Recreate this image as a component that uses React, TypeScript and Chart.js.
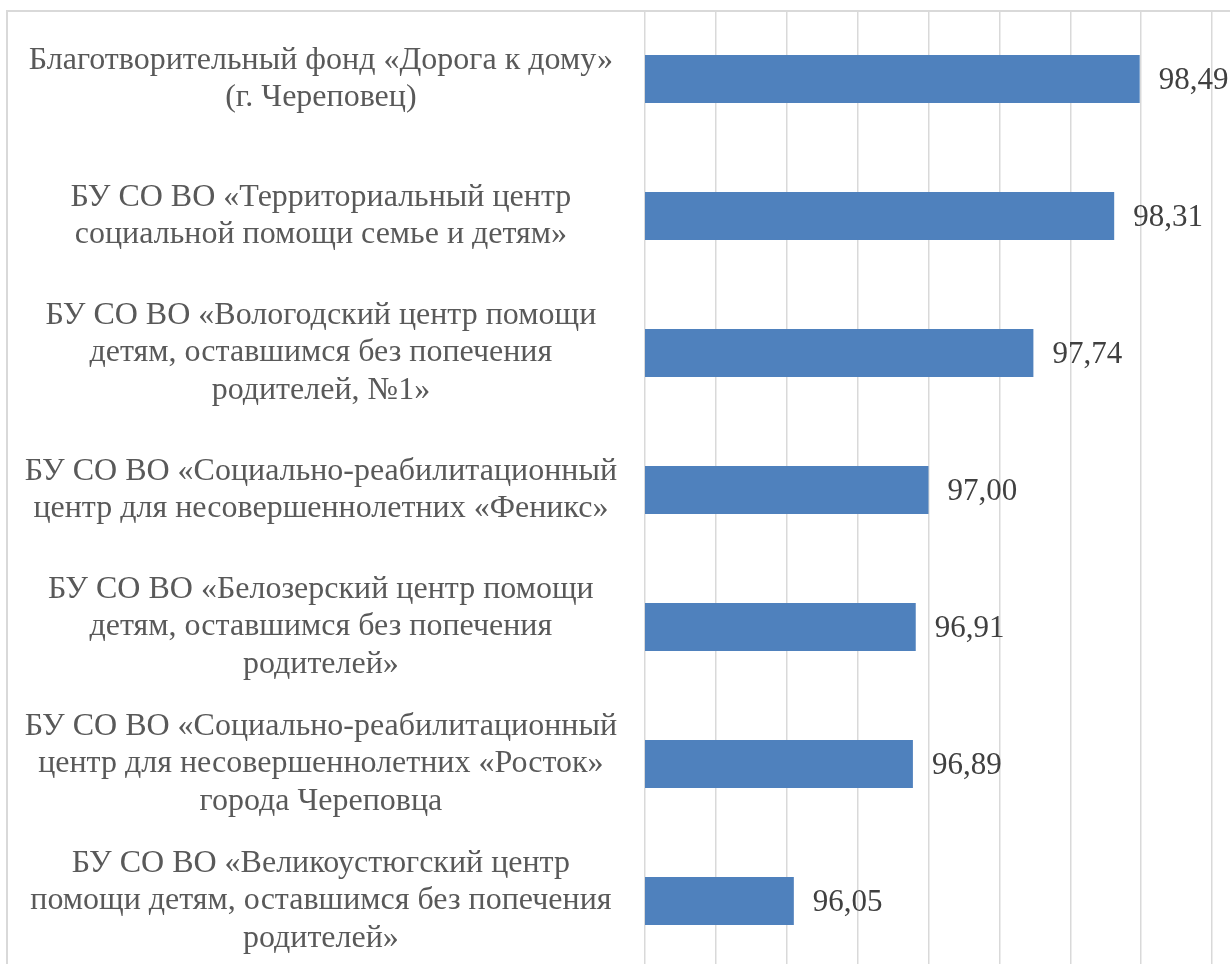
import React, { useEffect, useRef } from "react";
import { Chart, registerables } from "chart.js";

Chart.register(...registerables);

const categories: string[][] = [
  ["Благотворительный фонд «Дорога к дому»", "(г. Череповец)"],
  ["БУ СО ВО «Территориальный центр", "социальной помощи семье и детям»"],
  ["БУ СО ВО «Вологодский центр помощи", "детям, оставшимся без попечения", "родителей, №1»"],
  ["БУ СО ВО «Социально-реабилитационный", "центр для несовершеннолетних «Феникс»"],
  ["БУ СО ВО «Белозерский центр помощи", "детям, оставшимся без попечения", "родителей»"],
  ["БУ СО ВО «Социально-реабилитационный", "центр для несовершеннолетних «Росток»", "города Череповца"],
  ["БУ СО ВО «Великоустюгский центр", "помощи детям, оставшимся без попечения", "родителей»"],
];

const values: number[] = [98.49, 98.31, 97.74, 97.0, 96.91, 96.89, 96.05];

const axisMin = 95;
const axisMax = 99;
const axisStep = 0.5;

const FONT = "'Liberation Serif', 'Times New Roman', serif";

const valueLabels = {
  id: "valueLabels",
  afterDatasetsDraw(chart: any) {
    const ctx = chart.ctx;
    const meta = chart.getDatasetMeta(0);
    ctx.save();
    ctx.font = `31px ${FONT}`;
    ctx.fillStyle = "#404040";
    ctx.textAlign = "left";
    ctx.textBaseline = "middle";
    meta.data.forEach((el: any, i: number) => {
      const v = chart.data.datasets[0].data[i] as number;
      ctx.fillText(v.toFixed(2).replace(".", ","), el.x + 19, el.y + 2);
    });
    ctx.restore();
  },
};

export default function App() {
  const ref = useRef<HTMLCanvasElement | null>(null);

  useEffect(() => {
    if (!ref.current) return;
    const chart = new Chart(ref.current, {
      type: "bar",
      data: {
        labels: categories,
        datasets: [
          {
            data: values,
            backgroundColor: "#4F81BD",
            borderWidth: 0,
            categoryPercentage: 1,
            barPercentage: 0.35,
          },
        ],
      },
      options: {
        indexAxis: "y",
        animation: false,
        responsive: false,
        devicePixelRatio: 1,
        layout: { padding: { top: 10.5, right: 18, bottom: 5.5, left: 0 } },
        plugins: {
          legend: { display: false },
          tooltip: { enabled: false },
        },
        scales: {
          x: {
            type: "linear",
            min: axisMin,
            max: axisMax,
            ticks: { stepSize: axisStep, display: false },
            grid: { color: "#d9d9d9", lineWidth: 1.5, drawTicks: false },
            border: { display: false },
            afterFit: (s: any) => {
              s.height = 0;
              s.paddingLeft = 0;
              s.paddingRight = 0;
            },
          },
          y: {
            type: "category",
            ticks: {
              font: { family: FONT, size: 32, lineHeight: 1.16 },
              color: "#595959",
              crossAlign: "center",
              padding: 28,
              autoSkip: false,
            },
            grid: { display: false, drawTicks: false },
            border: { display: false },
            afterFit: (s: any) => {
              s.width = 645;
              s.paddingTop = 0;
              s.paddingBottom = 0;
            },
          },
        },
      },
      plugins: [valueLabels],
    } as any);
    return () => chart.destroy();
  }, []);

  return (
    <div style={{ position: "absolute", left: 0, top: 0, width: 1230, height: 964, overflow: "hidden", background: "#fff" }}>
      <canvas ref={ref} width={1230} height={975} style={{ display: "block" }} />
      <div
        style={{
          position: "absolute",
          left: 6,
          top: 10,
          width: 1300,
          height: 1000,
          border: "2px solid #d9d9d9",
          pointerEvents: "none",
        }}
      />
    </div>
  );
}
